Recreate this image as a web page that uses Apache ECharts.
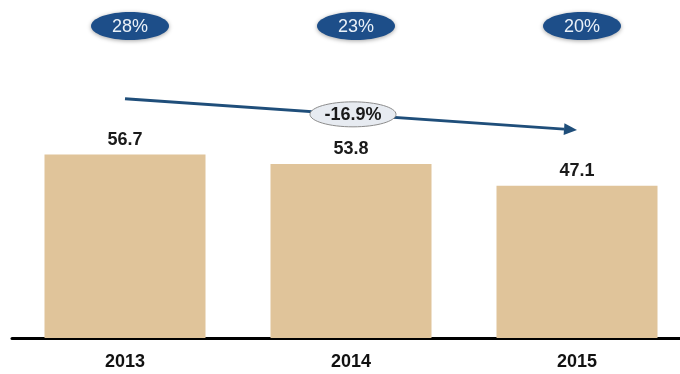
<!DOCTYPE html>
<html>
<head>
<meta charset="utf-8">
<script src="https://cdn.jsdelivr.net/npm/echarts@6/dist/echarts.min.js"></script>
<style>
html,body{margin:0;padding:0;background:#fff;}
#chart{width:680px;height:374px;}
</style>
</head>
<body>
<div id="chart"></div>
<script>
// Yearly totals with their share badges and the overall change
const years = ['2013', '2014', '2015'];
const totals = [56.7, 53.8, 47.1];
const shares = ['28%', '23%', '20%'];
const changeLabel = '-16.9%';

// Vertical levels (in axis units) for the badges and the trend arrow
const BADGE_LEVEL = 96.5;
const ARROW_START = 74;
const ARROW_END = 64.3;

const chart = echarts.init(document.getElementById('chart'), null, { renderer: 'canvas' });
const FONT = 'Liberation Sans, Arial, sans-serif';

chart.setOption({
  animation: false,
  backgroundColor: '#ffffff',
  grid: { left: 12, width: 678, top: 0, bottom: 36, containLabel: false, outerBoundsMode: 'none' },
  xAxis: {
    type: 'category',
    data: years,
    axisLine: { show: true, lineStyle: { color: '#000', width: 3 } },
    axisTick: { show: false },
    axisLabel: { color: '#111', fontFamily: FONT, fontSize: 18, fontWeight: 'bold', margin: 15 }
  },
  yAxis: {
    type: 'value', min: 0, max: 104.5,
    show: false, splitLine: { show: false }
  },
  series: [
    {
      type: 'bar',
      data: totals,
      barWidth: 161,
      itemStyle: { color: '#E0C49A' },
      label: {
        show: true, position: 'top', distance: 6,
        color: '#1a1a1a', fontFamily: FONT, fontSize: 18, fontWeight: 'bold',
        formatter: p => p.value.toFixed(1)
      },
      z: 2
    },
    {
      // share badges above each year
      type: 'custom',
      data: shares.map((s, i) => [i, BADGE_LEVEL, s]),
      renderItem: (params, api) => {
        const pt = api.coord([api.value(0), api.value(1)]);
        const cx = pt[0] + 5, cy = pt[1];
        return {
          type: 'group',
          children: [
            {
              type: 'ellipse',
              shape: { cx: cx, cy: cy, rx: 39, ry: 14 },
              style: { fill: '#1D4E89', shadowBlur: 4, shadowColor: 'rgba(0,0,0,0.35)', shadowOffsetY: 1 }
            },
            {
              type: 'text',
              style: {
                text: shares[params.dataIndex], x: cx, y: cy + 1,
                align: 'center', verticalAlign: 'middle',
                fill: '#EAF1F8', font: '18px ' + FONT
              }
            }
          ]
        };
      },
      z: 5
    },
    {
      // trend arrow from the first to the last year
      type: 'custom',
      data: [[0, ARROW_START, years.length - 1, ARROW_END]],
      renderItem: (params, api) => {
        const a = api.coord([api.value(0), api.value(1)]);
        const b = api.coord([api.value(2), api.value(3)]);
        const ang = Math.atan2(b[1] - a[1], b[0] - a[0]);
        const L = 13, W = 6;
        const bx = b[0] - L * Math.cos(ang), by = b[1] - L * Math.sin(ang);
        const nx = -Math.sin(ang) * W, ny = Math.cos(ang) * W;
        const mx = (a[0] + b[0]) / 2 + 2, my = (a[1] + b[1]) / 2;
        return {
          type: 'group',
          children: [
            {
              type: 'line',
              shape: { x1: a[0], y1: a[1], x2: bx, y2: by },
              style: { stroke: '#1F4E7A', lineWidth: 3 }
            },
            {
              type: 'polygon',
              shape: { points: [[b[0], b[1]], [bx + nx, by + ny], [bx - nx, by - ny]] },
              style: { fill: '#1F4E7A' }
            },
            {
              type: 'ellipse',
              shape: { cx: mx, cy: my, rx: 43, ry: 12.5 },
              style: { fill: '#E7EBF1', stroke: '#8C8C8C', lineWidth: 1 }
            },
            {
              type: 'text',
              style: {
                text: changeLabel, x: mx, y: my + 1,
                align: 'center', verticalAlign: 'middle',
                fill: '#1a1a1a', font: 'bold 18px ' + FONT
              }
            }
          ]
        };
      },
      z: 6
    }
  ]
});
</script>
</body>
</html>
